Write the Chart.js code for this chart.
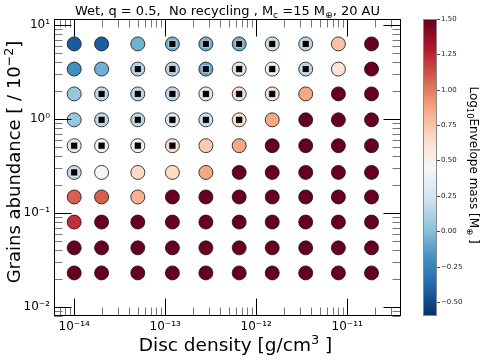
<!DOCTYPE html>
<html>
<head>
<meta charset="utf-8">
<script src="https://cdn.jsdelivr.net/npm/chart.js@4.4.0/dist/chart.umd.min.js"></script>
<style>
  html, body { margin: 0; background: #fff; }
  #wrap { width: 485px; height: 361px; }
</style>
</head>
<body>
<div id="wrap"><canvas id="c"></canvas></div>
<script>
// grid of runs: columns = disc density, rows = grain abundance (top row first)
const densities = [1.0e-14, 2.0e-14, 5.0e-14, 1.2e-13, 2.8e-13, 6.5e-13, 1.5e-12, 3.5e-12, 8.0e-12, 1.85e-11];
const abundances = [6.3, 3.4, 1.85, 0.98, 0.52, 0.27, 0.148, 0.08, 0.0425, 0.023];

// log10 envelope mass [M_earth], saturated runs read as the colour bar top (1.5)
const logEnvelopeMass = [
  [-0.43, -0.42, -0.06, -0.07, -0.07, -0.07,  0.22,  0.14,  0.76,  1.5],
  [-0.20, -0.06,  0.12,  0.12, -0.10,  0.30,  0.48,  0.15,  0.60,  1.5],
  [ 0.05,  0.15,  0.15,  0.15,  0.30,  0.63,  0.62,  0.86,  1.5,   1.5],
  [ 0.05,  0.15,  0.15,  0.30,  0.20,  0.63,  0.86,  1.5,   1.5,   1.5],
  [ 0.33,  0.42,  0.44,  0.65,  0.72,  0.86,  1.5,   1.5,   1.5,   1.5],
  [ 0.17,  0.42,  0.66,  0.66,  0.86,  1.5,   1.5,   1.5,   1.5,   1.5],
  [ 1.08,  1.08,  0.82,  1.5,   1.5,   1.5,   1.5,   1.5,   1.5,   1.5],
  [ 1.22,  1.5,   1.5,   1.5,   1.5,   1.5,   1.5,   1.5,   1.5,   1.5],
  [ 1.5,   1.5,   1.5,   1.5,   1.5,   1.5,   1.5,   1.5,   1.5,   1.5],
  [ 1.5,   1.5,   1.5,   1.5,   1.5,   1.5,   1.5,   1.5,   1.5,   1.5]
];

// runs marked with the black square
const flagged = [
  [0, 0, 0, 1, 1, 1, 1, 1, 0, 0],
  [0, 0, 1, 1, 1, 1, 1, 1, 0, 0],
  [0, 1, 1, 1, 1, 1, 1, 0, 0, 0],
  [0, 1, 1, 1, 1, 1, 0, 0, 0, 0],
  [1, 1, 1, 1, 0, 0, 0, 0, 0, 0],
  [1, 0, 0, 0, 0, 0, 0, 0, 0, 0],
  [0, 0, 0, 0, 0, 0, 0, 0, 0, 0],
  [0, 0, 0, 0, 0, 0, 0, 0, 0, 0],
  [0, 0, 0, 0, 0, 0, 0, 0, 0, 0],
  [0, 0, 0, 0, 0, 0, 0, 0, 0, 0]
];

const xRange = [6.0e-15, 3.9e-11];
const yRange = [0.008, 11.6];
const colorRange = [-0.6, 1.5];
const colorbarTicks = [-0.5, -0.25, 0, 0.25, 0.5, 0.75, 1.0, 1.25, 1.5];

// RdBu_r
const rdbu = ['#053061', '#2166ac', '#4393c3', '#92c5de', '#d1e5f0', '#f7f7f7',
              '#fddbc7', '#f4a582', '#d6604d', '#b2182b', '#67001f'];

const FONT = 'DejaVu Sans';
Chart.defaults.font.family = FONT;
Chart.defaults.color = '#000';

function hexRgb(h) {
  return [1, 3, 5].map(i => parseInt(h.slice(i, i + 2), 16));
}
function cmap(v) {
  let t = (v - colorRange[0]) / (colorRange[1] - colorRange[0]);
  t = Math.max(0, Math.min(1, t)) * (rdbu.length - 1);
  const i = Math.min(rdbu.length - 2, Math.floor(t));
  const f = t - i;
  const a = hexRgb(rdbu[i]), b = hexRgb(rdbu[i + 1]);
  const c = a.map((x, k) => Math.round(x + (b[k] - x) * f));
  return `rgb(${c[0]},${c[1]},${c[2]})`;
}

const SUP = { '-': '⁻', '0': '⁰', '1': '¹', '2': '²', '3': '³', '4': '⁴', '5': '⁵', '6': '⁶', '7': '⁷', '8': '⁸', '9': '⁹' };
function decadeLabel(value) {
  const e = Math.log10(value);
  if (Math.abs(e - Math.round(e)) > 1e-6) return '';
  return '10' + String(Math.round(e)).split('').map(ch => SUP[ch]).join('');
}

const circles = [], circleColors = [], squares = [];
abundances.forEach((ab, r) => {
  densities.forEach((d, c) => {
    circles.push({ x: d, y: ab });
    circleColors.push(cmap(logEnvelopeMass[r][c]));
    if (flagged[r][c]) squares.push({ x: d, y: ab });
  });
});

function logTicks(scale) {
  const out = [];
  const lo = Math.floor(Math.log10(scale.min)), hi = Math.ceil(Math.log10(scale.max));
  for (let d = lo; d <= hi; d++) {
    for (let k = 1; k <= 9; k++) {
      const v = k * Math.pow(10, d);
      if (v >= scale.min && v <= scale.max) out.push({ v, major: k === 1 });
    }
  }
  return out;
}

// text with sub/superscripts: parts = [text, mode], mode 1 = sup, -1 = sub
function richText(ctx, parts, x, y, size) {
  const widths = parts.map(([t, m]) => {
    ctx.font = `${m ? size * 0.7 : size}px "${FONT}"`;
    return ctx.measureText(t).width;
  });
  let cx = x - widths.reduce((a, b) => a + b, 0) / 2;
  parts.forEach(([t, m], i) => {
    ctx.font = `${m ? size * 0.7 : size}px "${FONT}"`;
    const dy = m === 1 ? -size * 0.38 : m === -1 ? size * 0.22 : 0;
    ctx.fillText(t, cx, y + dy);
    cx += widths[i];
  });
}

const framePlugin = {
  id: 'frame',
  afterDatasetsDraw(chart) {
    const { ctx, chartArea: a, scales } = chart;
    const L = Math.round(a.left) + 0.5, R = Math.round(a.right) - 0.5;
    const T = Math.round(a.top) + 0.5, B = Math.round(a.bottom) - 0.5;
    ctx.save();
    ctx.lineWidth = 1;
    logTicks(scales.x).forEach(({ v, major }) => {
      const px = Math.round(scales.x.getPixelForValue(v)) + 0.5;
      const len = major ? 17 : 8;
      ctx.strokeStyle = major ? '#000' : '#777';
      ctx.beginPath();
      ctx.moveTo(px, B); ctx.lineTo(px, B - len);
      ctx.moveTo(px, T); ctx.lineTo(px, T + len);
      ctx.stroke();
    });
    logTicks(scales.y).forEach(({ v, major }) => {
      const py = Math.round(scales.y.getPixelForValue(v)) + 0.5;
      const len = major ? 17 : 8;
      ctx.strokeStyle = major ? '#000' : '#777';
      ctx.beginPath();
      ctx.moveTo(L, py); ctx.lineTo(L + len, py);
      ctx.moveTo(R, py); ctx.lineTo(R - len, py);
      ctx.stroke();
    });
    ctx.strokeStyle = '#000';
    ctx.strokeRect(L, T, R - L, B - T);
    ctx.restore();
  },
  afterDraw(chart) {
    const { ctx, chartArea: a, scales } = chart;
    ctx.save();
    ctx.fillStyle = '#000';
    ctx.textAlign = 'left';
    ctx.textBaseline = 'alphabetic';
    const mid = (a.left + a.right) / 2;

    richText(ctx, [['Wet, q = 0.5,  No recycling , M', 0], ['c', -1], [' =15 M', 0], ['⊕', -1], [', 20 AU', 0]], mid, 15, 13);
    richText(ctx, [['Disc density [g/cm', 0], ['3', 1], [' ]', 0]], mid + 8, 351, 18.5);

    ctx.save();
    ctx.translate(20, 162);
    ctx.rotate(-Math.PI / 2);
    richText(ctx, [['Grains abundance [ / 10', 0], ['−2', 1], [']', 0]], 0, 0, 18);
    ctx.restore();

    // colour bar
    const cb = scales.cb;
    const x0 = 423, w = 14;
    const yTop = cb.getPixelForValue(colorRange[1]);
    const yBot = cb.getPixelForValue(colorRange[0]);
    const g = ctx.createLinearGradient(0, yBot, 0, yTop);
    rdbu.forEach((c, i) => g.addColorStop(i / (rdbu.length - 1), c));
    ctx.fillStyle = g;
    ctx.fillRect(x0, yTop, w, yBot - yTop);
    ctx.strokeStyle = '#888';
    ctx.lineWidth = 1;
    ctx.strokeRect(x0 + 0.5, Math.round(yTop) + 0.5, w - 1, Math.round(yBot - yTop) - 1);

    ctx.font = `7px "${FONT}"`;
    ctx.fillStyle = '#222';
    ctx.textBaseline = 'middle';
    ctx.strokeStyle = '#444';
    colorbarTicks.forEach(v => {
      const py = Math.round(cb.getPixelForValue(v)) + 0.5;
      ctx.beginPath();
      ctx.moveTo(x0 + w, py); ctx.lineTo(x0 + w + 3, py);
      ctx.stroke();
      ctx.fillText(v.toFixed(2).replace('-', '−'), x0 + w + 4, py);
    });

    ctx.fillStyle = '#000';
    ctx.textBaseline = 'alphabetic';
    ctx.translate(470, 165);
    ctx.rotate(Math.PI / 2);
    richText(ctx, [['Log', 0], ['10', -1], ['Envelope mass [M', 0], ['⊕', -1], [' ]', 0]], 0, 0, 12);
    ctx.restore();
  }
};

new Chart(document.getElementById('c'), {
  type: 'scatter',
  data: {
    datasets: [
      {
        data: squares,
        pointStyle: 'rect',
        pointRadius: 5,
        backgroundColor: '#000',
        borderColor: 'rgba(255,255,255,0.7)',
        borderWidth: 1,
        order: 0
      },
      {
        data: circles,
        pointStyle: 'circle',
        pointRadius: 7,
        backgroundColor: circleColors,
        borderColor: '#111',
        borderWidth: 0.8,
        order: 1
      }
    ]
  },
  options: {
    responsive: true,
    maintainAspectRatio: false,
    animation: false,
    layout: { padding: { top: 19, left: 0, right: 0, bottom: 0 } },
    plugins: { legend: { display: false }, tooltip: { enabled: false } },
    scales: {
      x: {
        type: 'logarithmic',
        min: xRange[0], max: xRange[1],
        grid: { display: false, drawTicks: false },
        border: { display: false },
        ticks: { autoSkip: false, maxRotation: 0, padding: 4, font: { size: 12 }, callback: decadeLabel },
        afterFit: s => { s.height = 45; }
      },
      y: {
        type: 'logarithmic',
        min: yRange[0], max: yRange[1],
        grid: { display: false, drawTicks: false },
        border: { display: false },
        ticks: { autoSkip: false, padding: 4, font: { size: 12 }, callback: decadeLabel },
        afterFit: s => { s.width = 54; }
      },
      cb: {
        type: 'linear',
        position: 'right',
        min: colorRange[0], max: colorRange[1],
        grid: { display: false, drawTicks: false },
        border: { display: false },
        ticks: { display: false },
        afterFit: s => { s.width = 84; }
      }
    }
  },
  plugins: [framePlugin]
});
</script>
</body>
</html>
